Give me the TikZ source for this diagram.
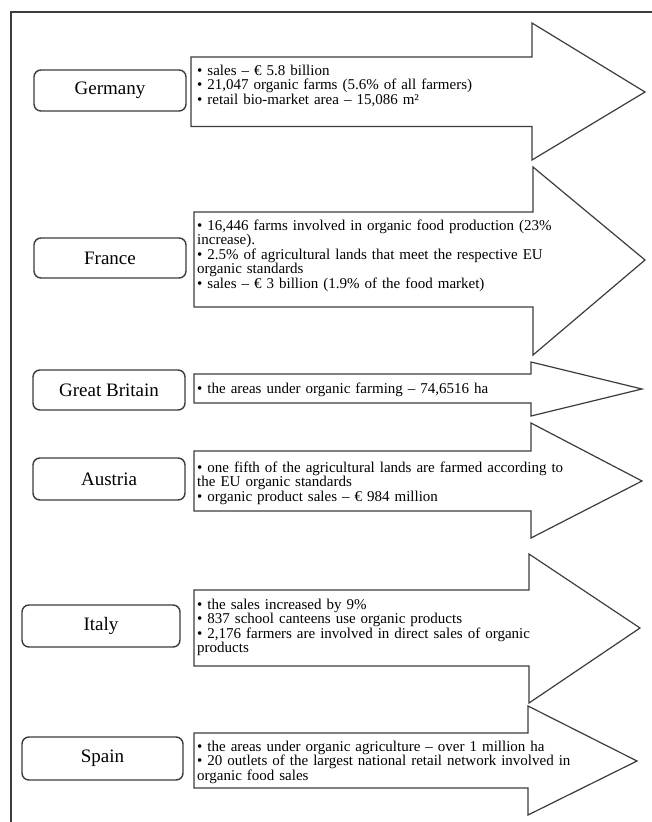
\documentclass[tikz,border=0pt]{standalone}
\usepackage{fontspec}
\setmainfont{Liberation Serif}
\definecolor{linegray}{HTML}{3C3C3C}
\tikzset{
  arrowshape/.style={draw=linegray, line width=1.2pt, fill=white, line join=miter},
  countrybox/.style={draw=linegray, line width=1.4pt, rounded corners=7pt, fill=white,
    inner sep=0pt, font=\fontsize{19}{22}\selectfont},
  bodytext/.style={anchor=north west, inner sep=0pt, align=left, text width=440pt,
    font=\fontsize{15}{14.5}\selectfont},
  frameline/.style={draw=linegray, line width=1.3pt}
}
\newcommand{\orgarrow}[8]{%
  \draw[arrowshape] (#1,#2) -- (#4,#2) -- (#4,#5) -- (#7,#8) -- (#4,#6) -- (#4,#3) -- (#1,#3) -- cycle;}
\begin{document}
\begin{tikzpicture}[x=1pt,y=-1pt]
\useasboundingbox (0,0) rectangle (652,822);
\fill[white] (0,0) rectangle (652,822);
\draw[frameline] (11,822) -- (11,12) -- (652,12);

% arrows: xL, shaft top, shaft bottom, head base x, head top, head bottom, tip x, tip y
\orgarrow{191}{57}{126.5}{532}{23}{160}{645}{92}
\orgarrow{194}{212}{307}{533}{167}{355}{645}{260}
\orgarrow{194}{374}{403}{531}{362}{416}{642}{389}
\orgarrow{194}{451}{511}{531}{423}{538}{642}{481}
\orgarrow{194}{590}{666}{529}{554}{703}{640}{628}
\orgarrow{194}{733}{788}{528}{706}{815}{637}{761}

% country boxes
\node[countrybox, minimum width=152pt, minimum height=41pt] (de) at (110,90.5) {Germany};
\node[countrybox, minimum width=152pt, minimum height=40pt] (fr) at (110,258) {France};
\node[countrybox, minimum width=152pt, minimum height=40pt] (gb) at (109,390) {Great Britain};
\node[countrybox, minimum width=152pt, minimum height=42pt] (at) at (109,479) {Austria};
\node[countrybox, minimum width=158pt, minimum height=42pt] (it) at (101,626) {Italy};
\node[countrybox, minimum width=161pt, minimum height=43pt] (es) at (102.5,758.5) {Spain};

% texts
\node[bodytext] (detext) at (197,64.5) {• sales – € 5.8 billion\\
• 21,047 organic farms (5.6\% of all farmers)\\
• retail bio-market area – 15,086 m²};
\node[bodytext] (frtext) at (197,219.5) {• 16,446 farms involved in organic food production (23\%\\
increase).\\
• 2.5\% of agricultural lands that meet the respective EU\\
organic standards\\
• sales – € 3 billion (1.9\% of the food market)};
\node[bodytext, anchor=west] (gbtext) at (197,389.5) {• the areas under organic farming – 74,6516 ha};
\node[bodytext] (attext) at (197,461.5) {• one fifth of the agricultural lands are farmed according to\\
the EU organic standards\\
• organic product sales – € 984 million};
\node[bodytext] (ittext) at (197,598.5) {• the sales increased by 9\%\\
• 837 school canteens use organic products\\
• 2,176 farmers are involved in direct sales of organic\\
products};
\node[bodytext] (estext) at (197,740.5) {• the areas under organic agriculture – over 1 million ha\\
• 20 outlets of the largest national retail network involved in\\
organic food sales};
\end{tikzpicture}
\end{document}
